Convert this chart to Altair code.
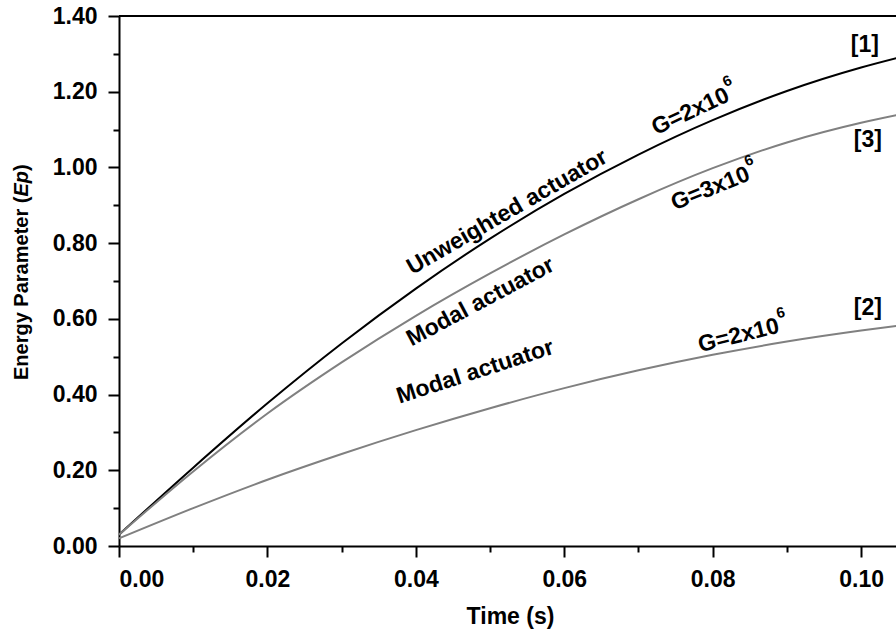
import altair as alt
import pandas as pd

# ---------------- data ----------------
time_s = [0.000, 0.010, 0.020, 0.030, 0.040, 0.050, 0.060, 0.070, 0.080, 0.090, 0.100, 0.105]
ep_unweighted_g2 = [0.030, 0.207, 0.377, 0.535, 0.680, 0.812, 0.930, 1.034, 1.125, 1.202, 1.264, 1.290]
ep_modal_g3 = [0.030, 0.197, 0.350, 0.485, 0.608, 0.720, 0.823, 0.916, 0.998, 1.066, 1.118, 1.139]
ep_modal_g2 = [0.020, 0.100, 0.175, 0.243, 0.306, 0.364, 0.417, 0.464, 0.505, 0.540, 0.569, 0.582]
series_names = ["[1] Unweighted actuator G=2x10^6", "[3] Modal actuator G=3x10^6", "[2] Modal actuator G=2x10^6"]
series_colors = ["#000000", "#808080", "#808080"]

x_major = [0.00, 0.02, 0.04, 0.06, 0.08, 0.10]
x_minor = [0.01, 0.03, 0.05, 0.07, 0.09]
y_major = [0.00, 0.20, 0.40, 0.60, 0.80, 1.00, 1.20, 1.40]
y_minor = [0.10, 0.30, 0.50, 0.70, 0.90, 1.10, 1.30]

# plain labels
ann_text = ["Unweighted actuator", "Modal actuator", "Modal actuator", "[1]", "[3]", "[2]"]
ann_t = [0.0523, 0.0487, 0.0480, 0.1005, 0.1009, 0.1009]
ann_v = [0.882, 0.645, 0.460, 1.323, 1.072, 0.629]
ann_angle = [330, 332, 342, 0, 0, 0]

# gain labels "G=..x10" with superscript exponent
gain_text = ["G=2x10", "G=3x10", "G=2x10"]
gain_exp = ["6", "6", "6"]
gain_t = [0.0770, 0.0797, 0.0835]
gain_v = [1.148, 0.944, 0.556]
gain_angle = [335, 338, 346]

# ---------------- tables ----------------
rows = []
for name, vals in zip(series_names, [ep_unweighted_g2, ep_modal_g3, ep_modal_g2]):
    for t, v in zip(time_s, vals):
        rows.append({"series": name, "t": t, "ep": v})
df = pd.DataFrame(rows)
ann_df = pd.DataFrame({"label": ann_text, "t": ann_t, "v": ann_v, "angle": ann_angle})
gain_df = pd.DataFrame({"label": gain_text, "exp": gain_exp, "t": gain_t, "v": gain_v, "angle": gain_angle})

FONT = "Liberation Sans"
FS = 23
W, H = 777, 530
xscale = alt.Scale(domain=[0, 0.1047], nice=False, zero=False)
yscale = alt.Scale(domain=[0, 1.4], nice=False, zero=False)

common_axis = dict(
    domainColor="black", domainWidth=2, tickColor="black", tickWidth=2,
    labelFont=FONT, labelFontSize=FS, labelFontWeight="bold", labelColor="black",
    labelPadding=11, grid=False,
)

x_axis = alt.Axis(values=x_major, format=".2f", tickSize=11, orient="bottom",
                  title="Time (s)", titleFont=FONT, titleFontSize=FS, titleFontWeight="bold",
                  titleColor="black", titleBaseline="alphabetic", titleY=77, titleX=391,
                  **common_axis)
y_axis = alt.Axis(values=y_major, format=".2f", tickSize=11, orient="left", title=None,
                  **common_axis)

lines = alt.Chart(df).mark_line(strokeWidth=2, clip=True, interpolate="monotone").encode(
    x=alt.X("t:Q", scale=xscale, axis=x_axis),
    y=alt.Y("ep:Q", scale=yscale, axis=y_axis),
    color=alt.Color("series:N", scale=alt.Scale(domain=series_names, range=series_colors), legend=None),
)

minor = alt.Chart(df).mark_line(opacity=0).encode(
    x=alt.X("t:Q", scale=xscale, axis=alt.Axis(values=x_minor, labels=False, domain=False, tickSize=6,
                                                tickWidth=2, tickColor="black", grid=False, title=None,
                                                orient="bottom")),
    y=alt.Y("ep:Q", scale=yscale, axis=alt.Axis(values=y_minor, labels=False, domain=False, tickSize=6,
                                                 tickWidth=2, tickColor="black", grid=False, title=None,
                                                 orient="left")),
    detail="series:N",
)

axes_layer = alt.layer(lines, minor).resolve_axis(x="independent", y="independent")

top_border = alt.Chart(alt.Data(values=[{}])).mark_rule(color="black", strokeWidth=2).encode(
    y=alt.datum(1.4, scale=yscale, axis=None),
    x=alt.value(0),
    x2=alt.value(W),
)

ann = alt.Chart(ann_df).mark_text(font=FONT, fontSize=FS, fontWeight="bold", color="black",
                                  align="center", baseline="middle").encode(
    x=alt.X("t:Q", scale=xscale, axis=None),
    y=alt.Y("v:Q", scale=yscale, axis=None),
    text="label:N",
    angle=alt.Angle("angle:Q", scale=None),
)

gain_main = alt.Chart(gain_df).mark_text(font=FONT, fontSize=FS, fontWeight="bold", color="black",
                                         align="center", baseline="middle").encode(
    x=alt.X("t:Q", scale=xscale, axis=None),
    y=alt.Y("v:Q", scale=yscale, axis=None),
    text="label:N",
    angle=alt.Angle("angle:Q", scale=None),
)
gain_sup = alt.Chart(gain_df).mark_text(font=FONT, fontSize=15, fontWeight="bold", color="black",
                                        align="left", baseline="middle", dx=42, dy=-12).encode(
    x=alt.X("t:Q", scale=xscale, axis=None),
    y=alt.Y("v:Q", scale=yscale, axis=None),
    text="exp:N",
    angle=alt.Angle("angle:Q", scale=None),
)

one = alt.Data(values=[{}])
ytitle_style = dict(font=FONT, fontSize=20, fontWeight="bold", color="black",
                    align="left", baseline="middle", angle=270)
yt1 = alt.Chart(one).mark_text(text="Energy Parameter (", **ytitle_style).encode(
    x=alt.value(-97), y=alt.value(364))
yt2 = alt.Chart(one).mark_text(text="Ep", fontStyle="italic", **ytitle_style).encode(
    x=alt.value(-97), y=alt.value(180.6))
yt3 = alt.Chart(one).mark_text(text=")", **ytitle_style).encode(
    x=alt.value(-97), y=alt.value(155))

chart = alt.layer(axes_layer, top_border, ann, gain_main, gain_sup, yt1, yt2, yt3).properties(
    width=W, height=H,
    autosize=alt.AutoSizeParams(type="none"),
    padding={"left": 119, "top": 16, "right": 0, "bottom": 84},
).configure_view(stroke=None)

chart.save("out.html", embed_options={"renderer": "svg", "actions": False})
